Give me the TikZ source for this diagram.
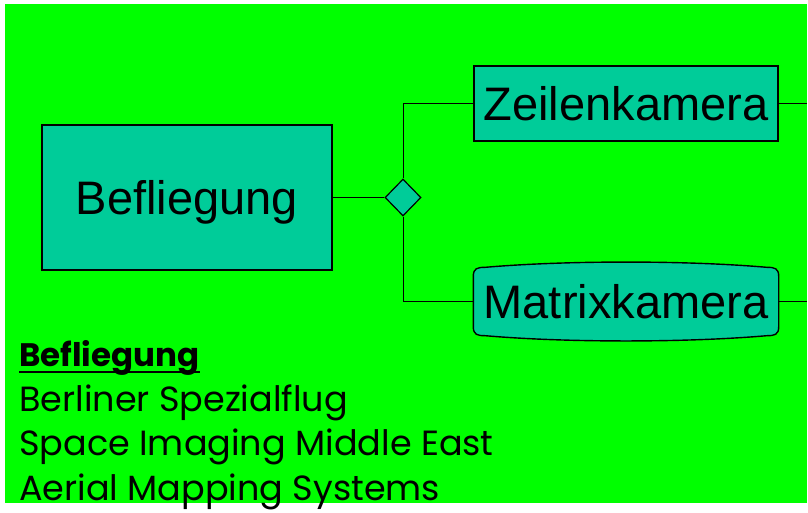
\documentclass[tikz,border=0pt]{standalone}
\usepackage{fontspec}
\setmainfont{Liberation Sans}
\newfontfamily\handfont{Poppins}
\usetikzlibrary{shapes.geometric, positioning, backgrounds, calc}
\definecolor{bggreen}{HTML}{00FF00}
\definecolor{boxgreen}{HTML}{00CC99}

\begin{document}
\begin{tikzpicture}[x=1pt, y=-1pt,
    box/.style={draw=black, line width=1.4pt, fill=boxgreen, inner sep=0pt,
      text depth=0pt, font=\fontsize{47}{47}\selectfont},
    link/.style={draw=black, line width=1pt},
    listline/.style={anchor=base west, inner sep=0pt,
      font=\handfont\fontsize{35}{35}\selectfont}]
    \useasboundingbox (0,0) rectangle (808,512);
    % Background
    \begin{scope}[on background layer]
      \fill[bggreen] (5,4) rectangle (807,503);
    \end{scope}

    % Entity and relationship
    \node[box, minimum width=290pt, minimum height=145pt] (befl) at (187,197.5) {Befliegung};
    \node[diamond, draw=black, line width=1.2pt, fill=boxgreen, inner sep=0pt,
      minimum width=36pt, minimum height=37pt] (rel) at (403,197.5) {};
    \node[box, minimum width=304pt, minimum height=75pt] (zeile) at (626,103.5) {Zeilenkamera};
    \node[box, draw=none, fill=none, minimum width=304pt, minimum height=77pt] (matrix) at (626,301.5) {Matrixkamera};

    % Outline of the rounded camera box
    \begin{scope}[on background layer]
      \filldraw[fill=boxgreen, draw=black, line width=1.4pt]
        ($(matrix.north west)+(0,14)$)
          .. controls ($(matrix.north west)+(0,6)$) and ($(matrix.north west)+(4,5)$) .. ($(matrix.north west)+(12,5)$)
          .. controls ($(matrix.north)+(-60,-2)$) and ($(matrix.north)+(60,-2)$) .. ($(matrix.north east)+(-12,5)$)
          .. controls ($(matrix.north east)+(-4,5)$) and ($(matrix.north east)+(0,6)$) .. ($(matrix.north east)+(0,14)$)
          -- ($(matrix.south east)+(0,-14)$)
          .. controls ($(matrix.south east)+(0,-6)$) and ($(matrix.south east)+(-4,-5)$) .. ($(matrix.south east)+(-12,-5)$)
          .. controls ($(matrix.south)+(60,2)$) and ($(matrix.south)+(-60,2)$) .. ($(matrix.south west)+(12,-5)$)
          .. controls ($(matrix.south west)+(4,-5)$) and ($(matrix.south west)+(0,-6)$) .. ($(matrix.south west)+(0,-14)$)
          -- cycle;
    \end{scope}

    % Connectors
    \coordinate (zend) at (807,103.5);
    \coordinate (mend) at (807,301.5);
    \draw[link] (befl.east) -- (rel.west);
    \draw[link] (rel.north) |- (zeile.west);
    \draw[link] (rel.south) |- (matrix.west);
    \draw[link] (zeile.east) -- (zend);
    \draw[link] (matrix.east) -- (mend);

    % Company list
    \node[listline, font=\handfont\bfseries\fontsize{32.5}{33}\selectfont] (head) at (19,366) {Befliegung};
    \draw[line width=2pt] ($(head.base west)+(0,6)$) -- ($(head.base east)+(0,6)$);
    \node[listline] (firm1) at (19,411) {Berliner Spezialflug};
    \node[listline] (firm2) at (19,455.5) {Space Imaging Middle East};
    \node[listline] (firm3) at (19,500) {Aerial Mapping Systems};
\end{tikzpicture}
\end{document}
